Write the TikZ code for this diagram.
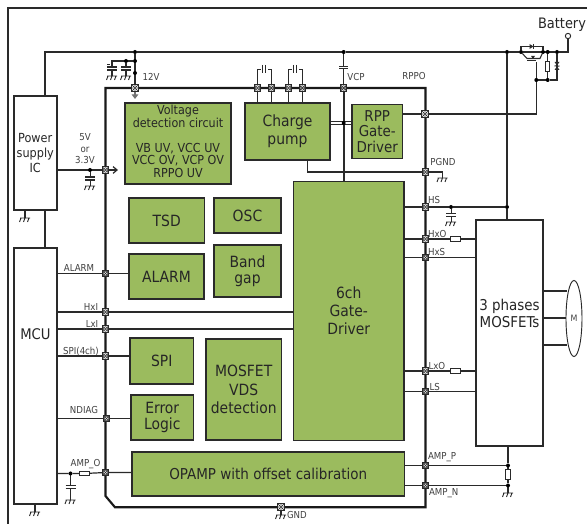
\documentclass[tikz,border=0pt]{standalone}
\usepackage{fontspec}
\setmainfont{DejaVu Sans Condensed}
\usetikzlibrary{backgrounds,arrows.meta,shapes.geometric}
\definecolor{blockgreen}{HTML}{9BBB5E}
\definecolor{inkdark}{HTML}{2A2A2A}
\tikzset{
  x=0.75pt,y=-0.75pt,
  line width=0.9pt,
  outer sep=0pt,
  wire/.style={draw=inkdark,line width=0.9pt},
  busline/.style={draw=inkdark,line width=1.7pt},
  block/.style={draw=inkdark,fill=blockgreen,line width=1.1pt,inner sep=0pt,align=center,text=black!85,font=\fontsize{11.6}{12.2}\selectfont,anchor=north west},
  bigblock/.style={block,font=\fontsize{11.6}{13.6}\selectfont},
  whitebox/.style={draw=inkdark,fill=white,line width=1.5pt,inner sep=0pt,align=center,text=black!85,font=\fontsize{11.4}{13}\selectfont,anchor=north west},
  pinbox/.style={draw=inkdark,fill=white,line width=0.7pt,minimum size=4.6pt,inner sep=0pt,
    path picture={\draw[line width=0.5pt,inkdark] (path picture bounding box.north west)--(path picture bounding box.south east)
       (path picture bounding box.north east)--(path picture bounding box.south west);
       \draw[line width=0.4pt,inkdark] (path picture bounding box.center) circle (1.7pt);}},
  jdot/.style={circle,fill=black,inner sep=0pt,minimum size=3pt,draw=none},
  lab/.style={inner sep=0pt,text=black!75,font=\fontsize{7.2}{8.6}\selectfont,align=center},
  res/.style={draw=inkdark,fill=white,line width=0.7pt,inner sep=0pt,minimum width=7.5pt,minimum height=3.2pt},
  vres/.style={draw=inkdark,fill=white,line width=0.7pt,inner sep=0pt,minimum width=3.2pt,minimum height=7.5pt},
  gndsym/.pic={\draw[line width=0.7pt,inkdark] (-5,0)--(5,0) (-4,0)--(-5.5,4) (0,0)--(-1.5,4) (4,0)--(2.5,4);},
  capv/.pic={\fill[white] (-5,-1.5) rectangle (5,1.5);\draw[line width=0.8pt,inkdark] (-5,-1.5)--(5,-1.5) (-5,1.5)--(5,1.5);},
  caph/.pic={\fill[white] (-1.5,-4) rectangle (1.5,4);\draw[line width=0.8pt,inkdark] (-1.5,-4)--(-1.5,4) (1.5,-4)--(1.5,4);},
}
\begin{document}
\begin{tikzpicture}
\useasboundingbox (0,0) rectangle (587,524);

% blocks
\node[block,minimum width=79.5pt,minimum height=60.75pt] (volt) at (125,103) {};
\node[lab,font=\fontsize{9.3}{9.6}\selectfont,text=black!85,align=center,anchor=north] (volttxt) at (178,105) {Voltage\\detection circuit\\[9pt]VB UV, VCC UV\\VCC OV, VCP OV\\RPPO UV};
\node[bigblock,minimum width=63.75pt,minimum height=42.75pt] (pump) at (245,103) {Charge\\pump};
\node[block,minimum width=37.9pt,minimum height=40.5pt,font=\fontsize{11.2}{11.6}\selectfont] (rpp) at (352,104.5) {RPP\\Gate-\\Driver};
\node[bigblock,minimum width=82.9pt,minimum height=194.25pt] (gate) at (293.5,181.5) {6ch\\Gate-\\Driver};
\node[block,minimum width=56.6pt,minimum height=33.75pt] (tsd) at (129,198) {TSD};
\node[block,minimum width=50.25pt,minimum height=26.25pt] (osc) at (214,198) {OSC};
\node[block,minimum width=50.25pt,minimum height=39pt] (band) at (214,245) {Band\\gap};
\node[block,minimum width=56.25pt,minimum height=33.75pt] (alarm) at (129,254) {ALARM};
\node[block,minimum width=47.6pt,minimum height=34.5pt] (spi) at (130,338) {SPI};
\node[block,minimum width=46.9pt,minimum height=33.75pt] (err) at (131,395) {Error\\Logic};
\node[bigblock,minimum width=56.6pt,minimum height=75.75pt] (vds) at (206,339) {MOSFET\\VDS\\detection};
\node[block,minimum width=204.4pt,minimum height=33pt,line width=1.4pt,font=\fontsize{11.25}{12}\selectfont] (opamp) at (132,452) {OPAMP with offset calibration};

\node[whitebox,minimum width=31.9pt,minimum height=85.5pt,font=\fontsize{9.4}{11.6}\selectfont] (psu) at (14,96) {Power\\supply\\IC};
\node[whitebox,minimum width=31.9pt,minimum height=192pt] (mcu) at (14,248) {};
\node[lab,font=\fontsize{11}{13}\selectfont,text=black!85] (mcutxt) at (35.5,334) {MCU};
\node[whitebox,minimum width=50.25pt,minimum height=169.5pt] (fets) at (476,220) {};
\node[lab,font=\fontsize{11.2}{13}\selectfont,text=black!85] (fetstxt) at (509.5,313.5) {3 phases\\MOSFETs};
\node[draw=inkdark,fill=white,line width=0.7pt,ellipse,minimum width=12pt,minimum height=57pt,inner sep=0pt,font=\fontsize{6.6}{8}\selectfont,text=black!75] (motor) at (574,318.5) {M};

% pins
\foreach \n/\x/\y in {p12/135/88,pa/257.5/88,pb/271.3/88,pc/288.5/88,pd/302.3/88,pvcp/343.7/88,
  prppo/425/114,ppgnd/425.5/172,p5v/105.5/170,phs/425.5/207,phxo/425.5/239,phxs/425.5/257.5,
  plxo/425.5/371,pls/425.5/391.5,pampp/425.5/465.5,pampn/425.5/485.5,
  palarm/105.5/273.5,phxi/105.5/312,plxi/105.5/329,pspi/105.5/356,pndiag/106.5/418.5,pampo/105.5/472.5,pgnd/281/507}
  {\node[pinbox] (\n) at (\x,\y) {};}

% junctions
\foreach \n/\x/\y in {jtl/135/52,jcap/135/61,jcapb/126/61,jlow/135/73,j5v/90/170,jvcp/343.7/52,jbus/343.7/123,
  jbat/507/52,jm1/521/52,jm2/543/52,jm3/547.7/52,jm4/557/52,jb1/536.3/80,jb2/547.7/80,
  jhs/507/207,jhsc/451/207,jampp/508/465.5,jampn/508/485.5,jampo/70.5/473.5}
  {\node[jdot] (\n) at (\x,\y) {};}

% free points
\coordinate (psutop) at (45,96);
\coordinate (tlc) at (45,52);
\coordinate (batj) at (568,52);
\node[draw=inkdark,fill=white,circle,line width=0.7pt,minimum size=4pt,inner sep=0pt] (batt) at (568,36) {};

% resistors
\node[res] (rhxo) at (455,239) {};
\node[res] (rlxo) at (455,371) {};
\node[res] (rampo) at (84.5,473.5) {};
\node[vres] (rgate) at (547.7,66) {};
\node[vres] (ramp) at (508,474.5) {};

% labels
\node[lab] (l12) at (151,77) {12V};
\node[lab] (l5v) at (85,149) {5V\\or\\3.3V};
\node[lab] (lvcp) at (356,77) {VCP};
\node[lab] (lrppo) at (414,76) {RPPO};
\node[lab] (lpgnd) at (443,162) {PGND};
\node[lab,anchor=west] (lhs) at (428,200) {HS};
\node[lab,anchor=west] (lhxo) at (428,234.5) {HxO};
\node[lab,anchor=west] (lhxs) at (428,252) {HxS};
\node[lab,anchor=west] (llxo) at (428.5,366.5) {LxO};
\node[lab,anchor=west] (lls) at (429.5,387.5) {LS};
\node[lab,anchor=west] (lampp) at (428,457.5) {AMP\_P};
\node[lab,anchor=west] (lampn) at (429,493.5) {AMP\_N};
\node[lab] (lalarm) at (79,268) {ALARM};
\node[lab] (lhxi) at (91,307) {HxI};
\node[lab] (llxi) at (92,324) {LxI};
\node[lab] (lspi) at (81,351) {SPI(4ch)};
\node[lab] (lndiag) at (84,410) {NDIAG};
\node[lab] (lampo) at (85.5,464.5) {AMP\_O};
\node[lab,anchor=west] (lgnd) at (287,515.5) {GND};
\node[lab,font=\fontsize{10.8}{12}\selectfont,text=black!85] (lbat) at (562,24.5) {Battery};

\begin{pgfonlayer}{background}
\fill[white] (0,0) rectangle (587,524);
% outer frame
\draw[line width=1.5pt,draw=inkdark] (587,8.5) -- (7.5,8.5) -- (7.5,524);
% IC outline
\draw[line width=1.6pt,draw=black!90] (105.5,88) -- (425.5,88) -- (425.5,507.3) -- (115,507.3) -- (105.5,496) -- cycle;
% supply rail
\draw[wire] (psu.north -| psutop) -- (tlc) -- (jtl) -- (jvcp) -- (jbat) -- (jm1);
\draw[wire] (jm4) -- (batj) -- (batt);
\draw[wire] (jtl) -- (p12);
\draw[wire] (jcap) -- (112,61) -- (112,76);
\draw[wire] (jcapb) -- (126,76);
\path (112,68.5) pic {capv} (126,68.5) pic {capv} (112,76) pic {gndsym} (126,76) pic {gndsym};
\draw[wire,line width=0.5pt] (107,64)--(110,64);
% 12V arrow
\draw[draw=black!55,line width=1.5pt,-{Triangle[length=3.5pt,width=5pt]}] (p12) -- (135,99);
% charge pump caps
\draw[wire,line width=0.7pt] (pump.north -| pa) -- (pa) -- (257.5,69) -- (261,69) (pump.north -| pb) -- (pb) -- (271.3,69) -- (267.5,69);
\draw[wire,line width=0.7pt] (pump.north -| pc) -- (pc) -- (288.5,69) -- (292,69) (pump.north -| pd) -- (pd) -- (302.3,69) -- (298.5,69);
\path (264.3,69) pic {caph} (295.3,69) pic {caph};
% VCP
\draw[wire,line width=0.7pt] (jvcp) -- (pvcp);
\path (343.7,67.5) pic[scale=.9] {capv};
\draw[busline] (pvcp) -- (gate.north -| pvcp);
\draw[wire] (pump.east |- 121.5,121.5) -- (rpp.west |- 121.5,121.5);
\draw[wire] (pump.east |- 124.5,124.5) -- (rpp.west |- 124.5,124.5);
% RPPO
\draw[wire] (rpp.east |- prppo) -- (prppo) -- (prppo -| jb1) -- (jb1);
% MOSFET and clamp
\draw[wire,line width=0.8pt] (jb1) -- (jb2) -- (557,80) -- (jm4);
\draw[wire,line width=0.8pt] (jb1) -- (536.3,62);
\draw[wire,line width=0.8pt] (jm3) -- (rgate) -- (jb2);
\draw[wire] (jm1) -- (jm4);
\draw[wire,line width=0.8pt] (jm1) -- (521,46.5) -- (543,46.5) -- (jm2);
\fill[inkdark] (529.5,44) -- (529.5,49) -- (533.5,46.5) -- cycle;
\draw[line width=0.8pt,inkdark] (533.7,44)--(533.7,49);
\draw[wire,line width=0.8pt] (jm1) -- (527,58.5) -- (540,58.5) -- (jm2);
\draw[line width=1pt,inkdark] (527,60.5) -- (536.3,60.5);
\fill[inkdark] (531,56)--(535,56)--(533,59)--cycle;
\fill[inkdark] (554.5,62)--(559.5,62)--(557,65.5)--cycle (554.5,70)--(559.5,70)--(557,66.5)--cycle;
\draw[line width=0.7pt,inkdark] (554.5,65.8)--(559.5,66.2);
% PGND
\draw[wire] (pump.south -| 307.5,0) -- (307.5,172) -- (ppgnd) -- (442.5,172) -- (442.5,178);
\path (442.5,178) pic {gndsym};
% HS
\draw[wire] (gate.east |- phs) -- (phs) -- (jhsc) -- (jhs);
\draw[wire] (jbat) -- (jhs) -- (fets.north -| jhs);
\draw[wire,line width=0.7pt] (jhsc) -- (451,222);
\path (451,215) pic {capv} (451,222) pic {gndsym};
\draw[wire] (gate.east |- phxo) -- (phxo) -- (rhxo) -- (fets.west |- rhxo);
\draw[wire] (gate.east |- phxs) -- (phxs) -- (fets.west |- phxs);
\draw[wire] (gate.east |- plxo) -- (plxo) -- (rlxo) -- (fets.west |- rlxo);
\draw[wire] (gate.east |- pls) -- (pls) -- (fets.west |- pls);
% motor
\draw[wire] (fets.east |- 0,291) -- (566.7,291);
\draw[wire] (fets.east |- 0,318) -- (566,318);
\draw[wire] (fets.east |- 0,345) -- (566.7,345);
% AMP
\draw[wire] (opamp.east |- pampp) -- (pampp) -- (jampp);
\draw[wire] (opamp.east |- pampn) -- (pampn) -- (jampn);
\draw[wire] (fets.south -| jampp) -- (jampp) -- (ramp) -- (jampn) -- (508,493);
\path (508,493) pic {gndsym};
% left
\draw[wire] (psu.east |- p5v) -- (p5v);
\draw[wire,-{Straight Barb[length=3pt,width=5pt]}] (p5v) -- (118,170);
\draw[wire,line width=0.7pt] (j5v) -- (90,186);
\path (90,178.5) pic {capv} (90,186) pic {gndsym};
\draw[wire] (psu.south -| psutop) -- (mcu.north -| psutop);
\draw[wire] (psu.south -| 25,0) -- (25,218);
\path (25,218) pic {gndsym};
\draw[wire] (mcu.south -| 35,0) -- (35,512);
\path (35,512) pic {gndsym};
\draw[wire] (mcu.east |- palarm) -- (palarm) -- (alarm.west |- palarm);
\draw[wire] (mcu.east |- phxi) -- (phxi) -- (gate.west |- phxi);
\draw[wire] (mcu.east |- plxi) -- (plxi) -- (gate.west |- plxi);
\draw[wire] (mcu.east |- pspi) -- (pspi) -- (spi.west |- pspi);
\draw[wire] (mcu.east |- pndiag) -- (pndiag) -- (err.west |- pndiag);
\draw[wire] (mcu.east |- jampo) -- (jampo) -- (rampo) -- (pampo) -- (opamp.west |- pampo);
\draw[wire,line width=0.7pt] (jampo) -- (70.5,500);
\path (70.5,487) pic {capv} (70.5,500) pic {gndsym};
\draw[wire] (pgnd) -- (281,515);
\path (281,515) pic {gndsym};
\end{pgfonlayer}
\end{tikzpicture}
\end{document}
